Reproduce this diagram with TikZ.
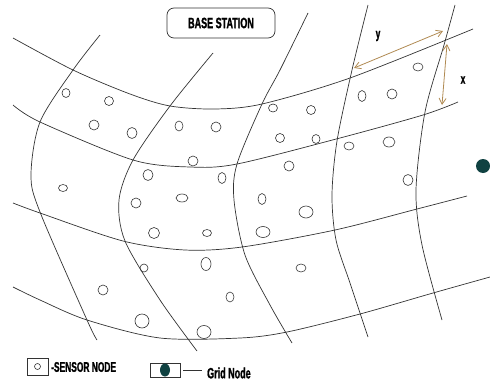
\documentclass[tikz,border=0pt]{standalone}
\usepackage{fontspec}
\usetikzlibrary{arrows.meta}
\newfontfamily\condfont[FakeStretch=0.6, BoldFeatures={FakeBold=1.2}]{Liberation Sans}
\definecolor{spanbrown}{RGB}{176,138,82}
\definecolor{gridteal}{RGB}{16,66,66}
\begin{document}
\begin{tikzpicture}[
    x=1pt, y=-1pt,
    gridline/.style={draw=black!80, line width=0.7pt},
    sensor/.style={draw=black!80, line width=0.6pt},
    span/.style={{Straight Barb[length=6pt,width=7pt]}-{Straight Barb[length=6pt,width=7pt]}, draw=spanbrown, line width=0.8pt},
    label/.style={font=\condfont\bfseries\fontsize{14}{14}\selectfont, inner sep=1pt},
    station/.style={draw=black!80, line width=0.7pt, rounded corners=7pt, minimum width=108pt, minimum height=30pt, font=\condfont\bfseries\fontsize{15}{15}\selectfont},
    gridnode/.style={circle, fill=gridteal, minimum size=14pt, inner sep=0pt},
    keybox/.style={draw=black!80, line width=0.6pt, inner sep=0pt}
]
    \useasboundingbox (0,0) rectangle (490,383);

    \node[station] (base) at (221,23) {BASE STATION};

    % horizontal curves
    \draw[gridline] plot[smooth] coordinates {(13,38) (73,70) (130,94) (170,106) (215,109) (262,104) (350,78) (473,29)};
    \draw[gridline] plot[smooth] coordinates {(13,105) (40,122) (133,160) (190,167) (237,164) (340,138) (423,115) (458,102)};
    \draw[gridline] plot[smooth] coordinates {(13,203) (40,213) (123,241) (185,250) (242,247) (335,230) (417,209) (467,196)};
    \draw[gridline] plot[smooth] coordinates {(13,287) (40,300) (87,320) (160,338) (240,338) (287,332) (360,314) (433,293) (490,277)};

    % vertical curves
    \draw[gridline] plot[smooth] coordinates {(100,35) (73,70) (40,122) (31,175) (40,212) (87,320) (97,340)};
    \draw[gridline] plot[smooth] coordinates {(213,53) (170,106) (133,160) (119,200) (125,241) (160,300) (197,351)};
    \draw[gridline] plot[smooth] coordinates {(308,13) (280,70) (262,104) (237,164) (234,200) (245,255) (270,305) (292,343)};
    \draw[gridline] plot[smooth] coordinates {(368,5) (352,70) (337,141) (332,195) (336,240) (350,283) (368,337)};
    \draw[gridline] plot[smooth] coordinates {(455,5) (444,45) (425,112) (416,190) (422,245) (442,320)};

    % sensor nodes
    \foreach \sx/\sy/\rx/\ry in {66/93/4/4.5, 109/101/4.5/4.5, 94/125/5/5, 132/133/5/5.5, 179/126/4/5,
        216/127/5/5, 193/161/5/5, 148/175/5/5.5, 222/178/4/5.5, 63/188/4.5/3.5,
        273/108/4.5/4, 311/110/4.5/4.5, 280/138/4.5/4.5, 316/139/4/4.5, 349/146/5/4,
        289/166/5/5, 418/67/5/4, 362/96/4/5.5, 392/94/5/5, 389/142/6/5, 408/180/5/5.5,
        136/203/5/5, 182/198/6/4, 154/233/5.5/5.5, 144/268/4/4, 103/290/5/5, 142/321/7/7,
        262/199/4/5.5, 306/212/7/6, 207/233/4.5/3.5, 263/232/7/5.5, 206/264/5/6.5,
        301/268/5/4, 230/297/4/5, 204/332/7/6.5}
        \draw[sensor] (\sx,\sy) ellipse [x radius=\rx pt, y radius=\ry pt];

    % spacing arrows
    \coordinate (ytail) at (354,68);
    \coordinate (yhead) at (443,31);
    \coordinate (xtail) at (447,44);
    \coordinate (xhead) at (442,105);
    \draw[span] (ytail) -- (yhead);
    \draw[span] (xtail) -- (xhead);
    \node[label] (ylabel) at (378,36) {y};
    \node[label] (xlabel) at (463,80) {x};

    \node[gridnode] (grid) at (483,166) {};

    % legend
    \node[keybox, minimum width=21pt, minimum height=17pt] (sensorkey) at (37.5,366.5) {};
    \draw[sensor] (sensorkey.center) circle (3pt);
    \node[label, anchor=west] (sensortext) at (50,367) {-SENSOR NODE};

    \node[keybox, minimum width=30pt, minimum height=14pt] (gridkey) at (165,370) {};
    \fill[gridteal] (gridkey.center) ellipse [x radius=5pt, y radius=6.5pt];
    \draw[sensor] ([xshift=3pt]gridkey.east) -- ++(19,0) coordinate (gridline);
    \node[label, anchor=west, font=\condfont\bfseries\fontsize{15}{15}\selectfont] (gridtext) at (206,373) {Grid Node};
\end{tikzpicture}
\end{document}
